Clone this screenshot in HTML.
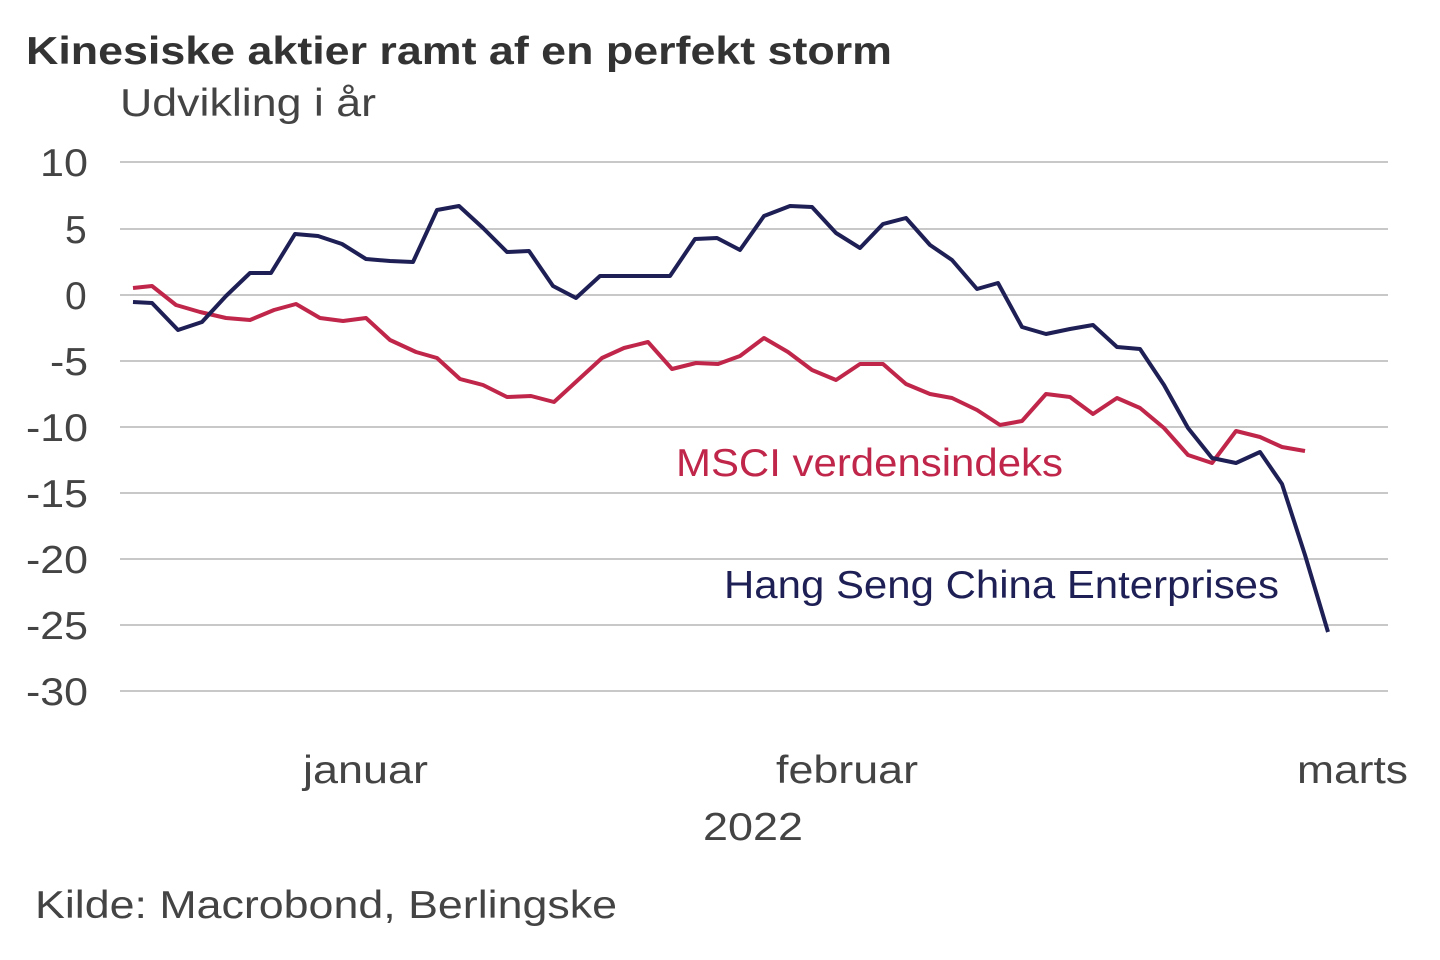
<!DOCTYPE html>
<html><head><meta charset="utf-8"><style>
html,body{margin:0;padding:0;background:#fff;}
svg{display:block;font-family:"Liberation Sans",sans-serif;}
</style></head><body>
<svg width="1440" height="960" viewBox="0 0 1440 960">
<text x="26" y="64" font-size="39" font-weight="bold" fill="#333" textLength="866" lengthAdjust="spacingAndGlyphs">Kinesiske aktier ramt af en perfekt storm</text>
<text x="120" y="116" font-size="39" fill="#444" textLength="256" lengthAdjust="spacingAndGlyphs">Udvikling i år</text>
<g stroke="#c8c8c8" stroke-width="2">
<line x1="120" x2="1388" y1="162" y2="162"/><line x1="120" x2="1388" y1="229" y2="229"/>
<line x1="120" x2="1388" y1="295" y2="295"/><line x1="120" x2="1388" y1="361" y2="361"/>
<line x1="120" x2="1388" y1="427" y2="427"/><line x1="120" x2="1388" y1="493" y2="493"/>
<line x1="120" x2="1388" y1="559" y2="559"/><line x1="120" x2="1388" y1="625" y2="625"/>
<line x1="120" x2="1388" y1="691" y2="691"/>
</g>
<g font-size="39" fill="#444">
<text x="40" y="176" textLength="48" lengthAdjust="spacingAndGlyphs">10</text>
<text x="65" y="243">5</text><text x="65" y="309">0</text>
<text x="50" y="375" textLength="38" lengthAdjust="spacingAndGlyphs">-5</text>
<text x="26" y="441" textLength="62" lengthAdjust="spacingAndGlyphs">-10</text>
<text x="26" y="507" textLength="62" lengthAdjust="spacingAndGlyphs">-15</text>
<text x="26" y="573" textLength="62" lengthAdjust="spacingAndGlyphs">-20</text>
<text x="26" y="639" textLength="62" lengthAdjust="spacingAndGlyphs">-25</text>
<text x="26" y="705" textLength="62" lengthAdjust="spacingAndGlyphs">-30</text>
</g>
<g font-size="39" fill="#444">
<text x="303" y="783" textLength="125" lengthAdjust="spacingAndGlyphs">januar</text>
<text x="776" y="783" textLength="142" lengthAdjust="spacingAndGlyphs">februar</text>
<text x="1297" y="783" textLength="111" lengthAdjust="spacingAndGlyphs">marts</text>
<text x="703" y="840" textLength="100" lengthAdjust="spacingAndGlyphs">2022</text>
</g>
<text x="35" y="918" font-size="39" fill="#444" textLength="582" lengthAdjust="spacingAndGlyphs">Kilde: Macrobond, Berlingske</text>
<polyline fill="none" stroke="#c0264a" stroke-width="4" stroke-linejoin="round" points="133,288 152,286 176,305 200,312 226,318 250,320 274,310 296,304 320,318 343,321 366,318 390,340 416,352 437,358 460,379 483,385 507,397 531,396 554,402 578,380 602,358 624,348 648,342 672,369 696,363 718,364 740,356 764,338 788,352 812,370 836,380 860,364 883,364 906,384 930,394 952,398 977,410 1000,425 1022,421 1046,394 1070,397 1093,414 1117,398 1140,408 1164,428 1188,455 1212,463 1236,431 1260,437 1282,447 1305,451"/>
<polyline fill="none" stroke="#1e1f55" stroke-width="4" stroke-linejoin="round" points="133,302 152,303 178,330 202,322 226,296 250,273 271,273 295,234 318,236 342,244 366,259 390,261 413,262 437,210 459,206 483,228 507,252 529,251 553,286 576,298 600,276 623,276 647,276 670,276 695,239 717,238 740,250 764,216 790,206 812,207 836,233 860,248 883,224 906,218 930,245 952,260 977,289 998,283 1022,327 1046,334 1070,329 1093,325 1117,347 1140,349 1164,385 1188,428 1212,458 1236,463 1260,452 1282,484 1305,555 1328,632"/>
<text x="676" y="476" font-size="39" fill="#c0264a" textLength="387" lengthAdjust="spacingAndGlyphs">MSCI verdensindeks</text>
<text x="724" y="598" font-size="39" fill="#1e1f55" textLength="555" lengthAdjust="spacingAndGlyphs">Hang Seng China Enterprises</text>
</svg>
</body></html>
